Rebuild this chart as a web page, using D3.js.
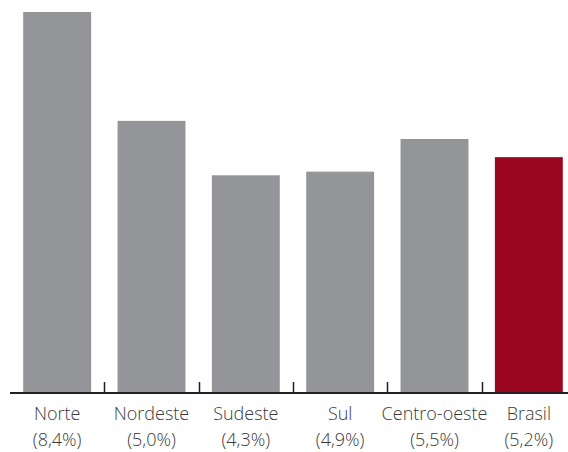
<!DOCTYPE html>
<html><head><meta charset="utf-8">
<script src="https://cdn.jsdelivr.net/npm/d3@7"></script>
<style>body{margin:0;background:#fff}svg{display:block}</style>
</head><body>
<svg id="c" width="568" height="452"></svg>
<script>
const categories = ["Norte","Nordeste","Sudeste","Sul","Centro-oeste","Brasil"];
const pctLabels = ["(8,4%)","(5,0%)","(4,3%)","(4,9%)","(5,5%)","(5,2%)"];
const values = [8.4, 6.0, 4.8, 4.88, 5.6, 5.2];

const svg = d3.select("#c");
const baseY = 393;
const x = d3.scaleBand().domain(categories).range([10, 576]).paddingInner(0.28).paddingOuter(0.14);
const y = d3.scaleLinear().domain([0, 8.4]).range([baseY, 12]);

svg.selectAll("rect.bar").data(categories).join("rect")
  .attr("class","bar")
  .attr("x", d => x(d))
  .attr("width", x.bandwidth())
  .attr("y", (d,i) => y(values[i]))
  .attr("height", (d,i) => baseY - y(values[i]))
  .attr("fill", (d,i) => d === "Brasil" ? "#9c0720" : "#939598");

// baseline
svg.append("line").attr("x1",10).attr("x2",568).attr("y1",baseY).attr("y2",baseY)
  .attr("stroke","#231f20").attr("stroke-width",2);

// separator ticks between bands
const step = x.step();
categories.slice(1).forEach(d => {
  const tx = Math.round(x(d) - (step - x.bandwidth())/2) + 0.5;
  svg.append("line").attr("x1",tx).attr("x2",tx).attr("y1",baseY).attr("y2",baseY-11)
    .attr("stroke","#231f20").attr("stroke-width",1.5);
});

const g = svg.append("g").attr("font-family","'Open Sans', sans-serif").attr("font-weight",300)
  .attr("font-size",18).attr("fill","#3a3a3a").attr("text-anchor","middle");
categories.forEach((d,i) => {
  const cx = x(d) + x.bandwidth()/2;
  g.append("text").attr("x",cx).attr("y",420).text(d);
  g.append("text").attr("x",cx).attr("y",446).text(pctLabels[i]);
});
</script>
</body></html>
